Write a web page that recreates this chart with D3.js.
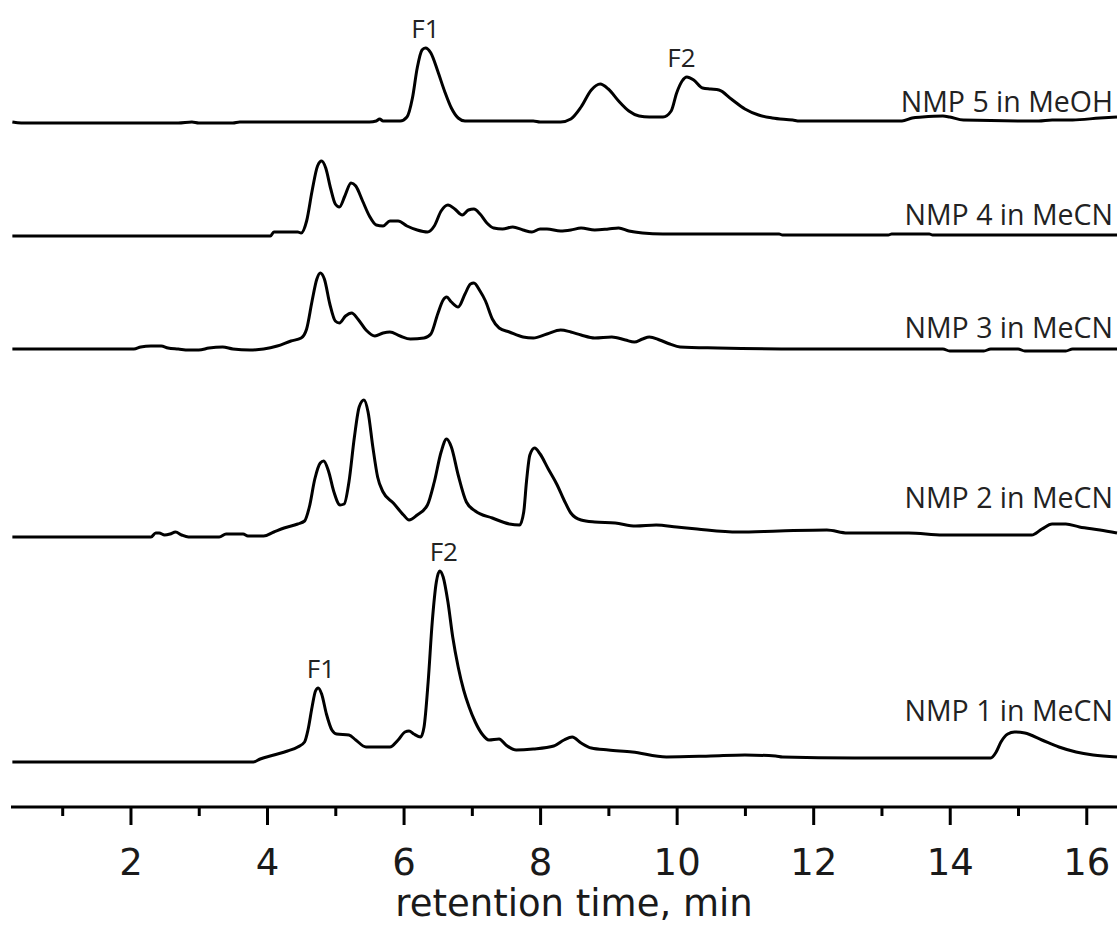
<!DOCTYPE html>
<html>
<head>
<meta charset="utf-8">
<script src="https://cdn.jsdelivr.net/npm/d3@7/dist/d3.min.js"></script>
<style>
  body { margin: 0; background: #fff; }
  svg { display: block; }
</style>
</head>
<body>
<svg id="chart" width="1120" height="926"></svg>
<script>
const width = 1120;
const height = 926;

// trace names, bottom to top, and the vertical offset of each baseline (signal units)
const traceNames = ['NMP 1 in MeCN', 'NMP 2 in MeCN', 'NMP 3 in MeCN', 'NMP 4 in MeCN', 'NMP 5 in MeOH'];
const traceOffsets = [45, 270, 458, 571, 684];

// [retention time (min), signal above baseline]
const nmp1 = [[0.27,0],[3.8,0],[3.9,3],[4.1,7],[4.3,11],[4.45,15],[4.55,20],[4.6,32],[4.66,55],[4.71,71],[4.75,74],
  [4.8,68],[4.87,48],[4.95,32],[5.02,28],[5.2,27],[5.3,22],[5.45,15],[5.8,15],[5.92,22],[6.02,30],[6.08,31],
  [6.15,28],[6.25,25],[6.3,35],[6.36,80],[6.42,140],[6.48,180],[6.53,191],[6.58,185],[6.65,160],[6.72,125],
  [6.8,95],[6.88,72],[6.96,55],[7.05,40],[7.15,28],[7.25,22],[7.4,23],[7.5,17],[7.65,12],[7.9,13],[8.2,16],
  [8.35,22],[8.47,25],[8.6,19],[8.75,14],[9.0,12],[9.35,10],[9.85,5],[10.5,6],[11.0,7],[11.45,6],[11.55,5],
  [12.6,4],[14.6,4],[14.68,10],[14.75,20],[14.85,28],[14.95,30],[15.1,29],[15.35,22],[15.6,15],[15.85,10],
  [16.1,7],[16.45,5]];

const nmp2 = [[0.27,0],[2.3,0],[2.37,4],[2.42,4],[2.5,2],[2.58,3],[2.66,5],[2.75,2],[2.85,0],[3.3,0],[3.4,3],
  [3.65,3],[3.72,1],[3.95,1],[4.1,5],[4.25,9],[4.45,13],[4.55,16],[4.62,30],[4.7,58],[4.78,74],[4.83,76],
  [4.9,66],[4.98,45],[5.07,32],[5.13,33],[5.2,55],[5.28,100],[5.35,130],[5.42,137],[5.48,125],[5.55,90],
  [5.62,60],[5.7,45],[5.85,34],[6.0,22],[6.08,17],[6.2,22],[6.35,32],[6.45,55],[6.55,85],[6.63,98],[6.7,90],
  [6.8,62],[6.92,35],[7.05,26],[7.3,19],[7.55,13],[7.7,12],[7.76,25],[7.8,55],[7.85,82],[7.92,89],[8.0,83],
  [8.12,68],[8.25,52],[8.35,37],[8.45,24],[8.6,17],[8.8,15],[9.1,14],[9.4,11],[9.7,12],[10.0,10],[10.3,8],
  [10.9,5],[11.5,6],[12.2,7],[12.5,4],[13.4,4],[13.9,2],[15.2,2],[15.35,8],[15.5,13],[15.7,13],[15.9,10],
  [16.2,7],[16.45,4]];

const nmp3 = [[0.27,0],[2.05,0],[2.15,2],[2.3,3],[2.45,3],[2.55,1],[2.7,0],[2.85,-1],[3.0,-1],[3.15,1],[3.35,2],
  [3.5,0],[3.75,-1],[3.95,0],[4.15,3],[4.35,8],[4.5,11],[4.58,20],[4.66,48],[4.73,70],[4.78,76],[4.84,70],
  [4.92,45],[5.0,28],[5.06,26],[5.15,33],[5.24,36],[5.33,30],[5.45,19],[5.58,13],[5.7,16],[5.8,17],[5.95,13],
  [6.1,10],[6.3,11],[6.4,15],[6.5,35],[6.58,49],[6.63,52],[6.7,47],[6.8,42],[6.9,55],[6.98,65],[7.03,66],
  [7.12,58],[7.2,48],[7.3,30],[7.4,21],[7.55,17],[7.75,12],[7.9,11],[8.1,15],[8.3,19],[8.45,17],[8.6,14],
  [8.8,11],[9.05,12],[9.25,9],[9.38,7],[9.5,10],[9.6,12],[9.75,9],[9.9,5],[10.05,2],[10.6,1],[11.8,0],
  [13.9,0],[14.0,-2],[14.5,-2],[14.6,0],[15.0,0],[15.1,-2],[15.7,-2],[15.8,0],[16.45,0]];

const nmp4 = [[0.27,0],[4.05,0],[4.1,4],[4.45,4],[4.5,3],[4.58,15],[4.66,45],[4.74,70],[4.8,75],[4.86,68],
  [4.93,48],[5.0,32],[5.06,29],[5.14,40],[5.23,53],[5.3,50],[5.4,35],[5.5,20],[5.6,11],[5.7,10],[5.8,15],
  [5.92,15],[6.05,10],[6.2,6],[6.35,4],[6.45,10],[6.55,25],[6.65,31],[6.75,27],[6.86,21],[6.95,26],[7.03,27],
  [7.12,22],[7.22,13],[7.32,8],[7.45,7],[7.6,9],[7.75,6],[7.88,4],[8.0,7],[8.1,7],[8.3,5],[8.45,6],[8.6,8],
  [8.8,6],[9.0,7],[9.15,8],[9.3,5],[9.5,3],[9.8,2],[11.5,2],[11.55,1],[13.1,1],[13.15,2],[13.7,2],[13.75,1],
  [16.45,1]];

const nmp5 = [[0.27,1],[0.4,0],[2.7,0],[2.9,1],[3.0,0],[3.5,0],[3.6,1],[5.5,1],[5.6,2],[5.65,4],[5.7,2],
  [5.95,2],[6.05,6],[6.13,25],[6.2,55],[6.27,73],[6.32,75],[6.4,70],[6.5,52],[6.6,32],[6.7,15],[6.8,5],
  [6.9,2],[7.9,2],[8.0,1],[8.3,1],[8.45,4],[8.6,16],[8.75,33],[8.88,39],[9.0,34],[9.15,22],[9.3,12],[9.45,7],
  [9.6,6],[9.8,6],[9.92,12],[10.0,30],[10.08,42],[10.15,46],[10.25,43],[10.38,35],[10.5,34],[10.62,33],
  [10.8,24],[11.0,14],[11.2,8],[11.4,5],[11.7,3],[11.8,2],[13.3,2],[13.45,5],[13.6,6],[13.9,7],[14.0,6],
  [14.2,3],[15.3,2],[15.5,3],[15.8,3],[16.2,5],[16.45,6]];

const traceValues = [nmp1, nmp2, nmp3, nmp4, nmp5];

// fraction labels: which trace, at which retention time
const fractionTrace = [4, 4, 0, 0];
const fractionTime = [6.32, 10.07, 6.59, 4.79];
const fractionText = ['F1', 'F2', 'F2', 'F1'];

const majorTicks = [2, 4, 6, 8, 10, 12, 14, 16];
const minorTicks = [1, 3, 5, 7, 9, 11, 13, 15];
const xTitle = 'retention time, min';

// layout
const axisY = 807;
const labelDy = [41, 29, 11, 11, 11];

const svg = d3.select('#chart');

const x = d3.scaleLinear()
  .domain([0.25, 16.45])
  .range([11, 1117]);

const y = d3.scaleLinear()
  .domain([0, 800])
  .range([axisY, axisY - 800]);

const line = d3.line()
  .x(d => x(d[0]))
  .y(d => y(d[1] + d.off))
  .curve(d3.curveMonotoneX);

// traces
traceValues.forEach((vals, i) => {
  const pts = vals.map(d => { const p = [d[0], d[1]]; p.off = traceOffsets[i]; return p; });
  svg.append('path')
    .attr('d', line(pts))
    .attr('fill', 'none')
    .attr('stroke', '#000')
    .attr('stroke-width', 3)
    .attr('stroke-linejoin', 'round');

  svg.append('text')
    .attr('x', 1113)
    .attr('y', y(traceOffsets[i]) - labelDy[i])
    .attr('text-anchor', 'end')
    .style('font-family', '"Open Sans", "Noto Sans", sans-serif')
    .style('font-size', '28.5px')
    .style('fill', '#222')
    .text(traceNames[i]);
});

// F1 / F2 labels, placed just above the nearby peak
fractionText.forEach((txt, k) => {
  const vals = traceValues[fractionTrace[k]];
  const t = fractionTime[k];
  const peak = d3.max(vals.filter(d => Math.abs(d[0] - t) < 0.25), d => d[1]);
  svg.append('text')
    .attr('x', x(t))
    .attr('y', y(peak + traceOffsets[fractionTrace[k]]) - 10)
    .attr('text-anchor', 'middle')
    .style('font-family', '"Open Sans", "Noto Sans", sans-serif')
    .style('font-size', '26px')
    .style('fill', '#222')
    .text(txt);
});

// x axis
const xAxis = d3.axisBottom(x)
  .tickValues(majorTicks)
  .tickSize(18)
  .tickSizeOuter(0)
  .tickFormat(d3.format('d'));

const gx = svg.append('g')
  .attr('transform', `translate(0,${axisY})`)
  .call(xAxis);

gx.select('.domain')
  .attr('d', `M${x.range()[0]},0H${x.range()[1]}`)
  .attr('stroke', '#000')
  .attr('stroke-width', 3);
gx.selectAll('.tick line').attr('stroke', '#000').attr('stroke-width', 3);
gx.selectAll('.tick text')
  .attr('y', 68)
  .attr('dy', 0)
  .style('font-family', '"DejaVu Sans", sans-serif')
  .style('font-size', '37px')
  .style('fill', '#1a1a1a');

const gMinor = svg.append('g')
  .attr('transform', `translate(0,${axisY})`)
  .call(d3.axisBottom(x).tickValues(minorTicks).tickSize(9).tickSizeOuter(0).tickFormat(''));
gMinor.select('.domain').remove();
gMinor.selectAll('.tick line').attr('stroke', '#000').attr('stroke-width', 3);

svg.append('text')
  .attr('x', 574)
  .attr('y', 916)
  .attr('text-anchor', 'middle')
  .style('font-family', '"DejaVu Sans", sans-serif')
  .style('font-size', '37px')
  .style('fill', '#1a1a1a')
  .text(xTitle);
</script>
</body>
</html>
